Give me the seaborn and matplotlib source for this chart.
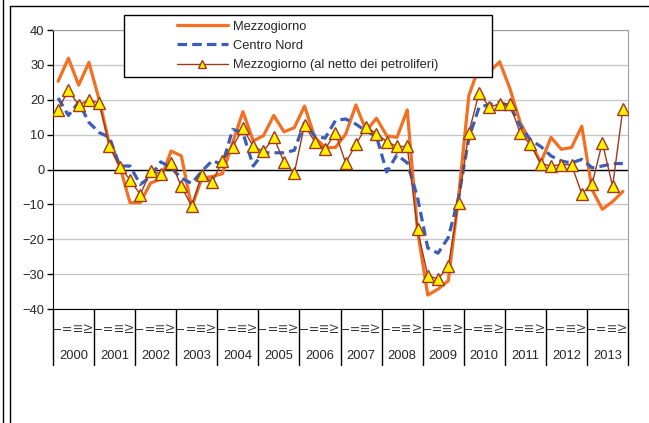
import matplotlib
matplotlib.use("Agg")
import matplotlib.pyplot as plt
from matplotlib.lines import Line2D
from matplotlib.patches import Rectangle
import matplotlib.transforms as mtransforms
import numpy as np
import pandas as pd
import seaborn as sns

sns.set_style("white")
plt.rcParams["font.family"] = ["Liberation Sans", "DejaVu Sans"]

years = list(range(2000, 2014))
quarter_labels = ["I", "II", "III", "IV"]

mezzogiorno = [
    25.3, 31.9, 24.2, 30.7,
    20.0, 7.2, 1.0, -9.5,
    -9.5, -3.9, -2.7, 5.3,
    3.9, -10.8, -2.5, -2.0,
    -1.2, 7.7, 16.6, 8.2,
    9.7, 15.5, 10.8, 12.0,
    18.2, 9.2, 6.3, 6.3,
    10.1, 18.5, 11.1, 14.7,
    9.7, 9.2, 17.1, -17.5,
    -36.0, -34.3, -31.9, -7.7,
    21.2, 29.5, 28.0, 30.9,
    23.2, 13.5, 8.0, 1.9,
    9.2, 5.8, 6.3, 12.4,
    -5.8, -11.4, -9.2, -6.3,
]
centro_nord = [
    20.5, 15.5, 19.3, 13.5,
    10.6, 9.2, 1.0, 1.0,
    -4.3, -2.0, 2.2, 0.5,
    -2.5, -4.0, -0.5, 2.5,
    1.5, 11.5, 10.5, 1.0,
    4.8, 4.8, 4.8, 5.5,
    13.5, 9.5, 9.0, 14.0,
    14.5, 13.0, 11.0, 9.5,
    -0.7, 4.2, 1.9, -8.0,
    -22.5, -24.0, -19.5, -8.0,
    9.0, 17.9, 18.6, 19.3,
    18.2, 12.6, 8.5, 6.6,
    3.9, 2.4, 1.9, 2.9,
    0.5, 1.0, 1.7, 1.7,
]
mezz_netto = [
    17.2, 22.7, 18.5, 20.0,
    19.0, 6.8, 0.7, -2.9,
    -7.2, -0.5, -1.2, 2.0,
    -4.8, -10.5, -1.5, -3.6,
    2.4, 6.5, 11.8, 6.6,
    5.2, 9.2, 2.1, -1.0,
    12.8, 7.9, 5.8, 10.6,
    1.9, 7.2, 12.2, 10.3,
    8.0, 6.6, 6.6, -17.2,
    -30.4, -31.4, -27.7, -9.5,
    10.6, 22.0, 17.9, 18.8,
    18.8, 10.4, 7.2, 1.7,
    1.0, 1.4, 1.4, -7.0,
    -4.1, 7.7, -4.8, 17.4,
]

n = len(mezzogiorno)
xq = np.arange(n) + 0.5
df = pd.DataFrame({"x": xq, "mezz": mezzogiorno, "cn": centro_nord, "netto": mezz_netto})

W, H = 649, 423
FS = 9.3
fig = plt.figure(figsize=(W / 100, H / 100), dpi=100)
ax = fig.add_axes([53 / W, 1 - 309 / H, (628 - 53) / W, (309 - 30) / H])

orange = "#F36F21"
blue = "#3A5DB8"
brown = "#9E3A1A"
dash = (0, (3.0, 1.6))

sns.lineplot(data=df, x="x", y="mezz", ax=ax, color=orange, lw=2.3, zorder=3)
sns.lineplot(data=df, x="x", y="cn", ax=ax, color=blue, lw=2.3, linestyle=dash, zorder=4)
sns.lineplot(data=df, x="x", y="netto", ax=ax, color=brown, lw=1.0, marker="^",
             markersize=8, markerfacecolor="#FFF200", markeredgecolor=brown,
             markeredgewidth=1.0, zorder=5)

ax.set_xlim(0, n)
ax.set_ylim(-40, 40)
ax.set_yticks(range(-40, 41, 10))
ax.set_xticks([])
ax.set_xlabel("")
ax.set_ylabel("")
ax.yaxis.grid(True, color="#C8C8C8", lw=1)
ax.axhline(0, color="black", lw=1, zorder=2)
ax.tick_params(axis="y", direction="out", length=4, width=1, color="black",
               labelsize=FS, pad=2, left=True)
for s in ["top", "right"]:
    ax.spines[s].set_color("#A0A0A0")
ax.spines["left"].set_color("black")
ax.spines["bottom"].set_color("black")

# category axis: year separators, quarter labels, years
trans = mtransforms.blended_transform_factory(ax.transData, ax.transAxes)
for k in range(len(years) + 1):
    ax.plot([4 * k, 4 * k], [0, -0.2], color="black", lw=1, transform=trans, clip_on=False)
for i in range(n):
    ax.text(xq[i], -0.065, quarter_labels[i % 4], rotation=90, ha="center", va="center",
            fontsize=7.5, transform=trans)
for k, yr in enumerate(years):
    ax.text(4 * k + 2, -0.168, str(yr), ha="center", va="center", fontsize=FS, transform=trans)

# outer frame
fig.add_artist(Line2D([3 / W, 3 / W], [0, 1], color="black", lw=1, transform=fig.transFigure))
fig.add_artist(Line2D([10 / W, 10 / W], [0, 1 - 6 / H], color="black", lw=1, transform=fig.transFigure))
fig.add_artist(Line2D([10 / W, 1], [1 - 6 / H, 1 - 6 / H], color="black", lw=1, transform=fig.transFigure))

# legend box
fig.add_artist(Rectangle((124 / W, 1 - 77 / H), (492 - 124) / W, (77 - 15) / H,
                         transform=fig.transFigure, facecolor="white", edgecolor="black",
                         lw=1, zorder=3))
handles = [
    Line2D([], [], color=orange, lw=2.3),
    Line2D([], [], color=blue, lw=2.3, linestyle=dash),
    Line2D([], [], color=brown, lw=1.0, marker="^", markersize=6,
           markerfacecolor="#FFF200", markeredgecolor=brown),
]
labels = ["Mezzogiorno", "Centro Nord", "Mezzogiorno (al netto dei petroliferi)"]
leg = fig.legend(handles, labels, loc="center", bbox_to_anchor=(308 / W, 1 - 46 / H),
                 frameon=False, fontsize=FS, handlelength=3.9, handletextpad=0.45,
                 labelspacing=0.55, borderpad=0)
leg.set_zorder(4)

fig.savefig("out.png", dpi=100)
